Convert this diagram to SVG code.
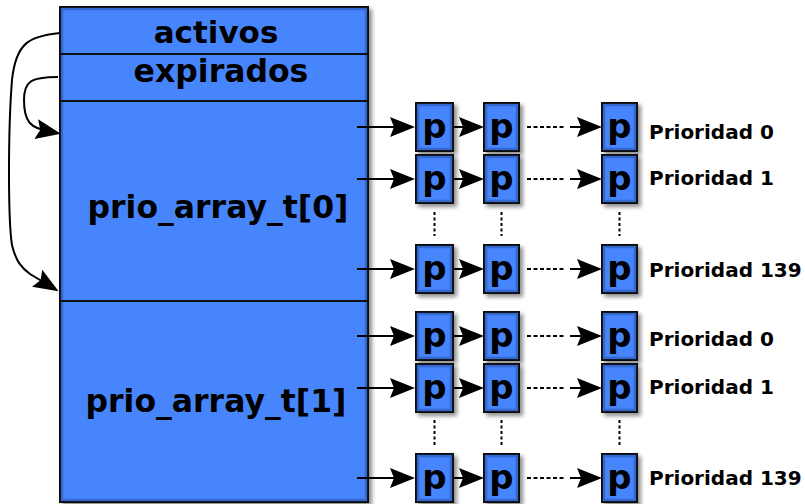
<svg xmlns="http://www.w3.org/2000/svg" width="805" height="504" viewBox="0 0 805 504">
  <style>
    .box { fill: #4785fd; stroke: #111; stroke-width: 2; }
    .inner { fill: none; stroke: #2550a8; stroke-width: 2.5; opacity: 0.55; }
    .big { font-family: "DejaVu Sans", "Liberation Sans", sans-serif; font-weight: bold; fill: #000; text-anchor: middle; }
    .p { font-family: "DejaVu Sans", "Liberation Sans", sans-serif; font-weight: bold; font-size: 34px; fill: #000; text-anchor: middle; }
    .lbl { font-family: "DejaVu Sans", "Liberation Sans", sans-serif; font-weight: bold; font-size: 20px; fill: #000; }
    .arr { fill: none; stroke: #000; stroke-width: 2; marker-end: url(#head); }
    .dash { fill: none; stroke: #000; stroke-width: 2; stroke-dasharray: 4 2.5; }
    .dot { fill: none; stroke: #000; stroke-width: 2; stroke-dasharray: 3 2.5; }
  </style>
  <defs>
    <marker id="head" viewBox="-18 -12 30 24" markerWidth="30" markerHeight="24" refX="0" refY="0" orient="auto" markerUnits="userSpaceOnUse">
      <path d="M10,0 L-15,-10 L-11,0 L-15,10 Z" fill="#000"/>
    </marker>
    <filter id="shadow" x="-10%" y="-10%" width="130%" height="130%">
      <feGaussianBlur in="SourceAlpha" stdDeviation="2"/>
      <feOffset dx="3" dy="3" result="o"/>
      <feComponentTransfer><feFuncA type="linear" slope="0.45"/></feComponentTransfer>
      <feMerge><feMergeNode/><feMergeNode in="SourceGraphic"/></feMerge>
    </filter>
  </defs>

  <!-- runqueue structure -->
  <g id="runqueue">
    <rect class="box" x="60" y="7" width="308" height="495" stroke-width="2.5" filter="url(#shadow)"/>
    <rect class="inner" x="62" y="9" width="304" height="491"/>
    <line x1="60" y1="54" x2="368" y2="54" stroke="#111" stroke-width="2"/>
    <line x1="60" y1="101" x2="368" y2="101" stroke="#111" stroke-width="2"/>
    <line x1="60" y1="301" x2="368" y2="301" stroke="#111" stroke-width="2"/>
    <text class="big" x="216" y="43" font-size="31">activos</text>
    <text class="big" x="221" y="82" font-size="31.5">expirados</text>
    <text class="big" x="218" y="218" font-size="31.5">prio_array_t[0]</text>
    <text class="big" x="216" y="412" font-size="31.5">prio_array_t[1]</text>
  </g>

  <!-- task nodes, grouped by priority row -->
  <g id="row-a0">
    <rect class="box" x="416" y="103" width="37" height="48" filter="url(#shadow)"/><rect class="inner" x="418" y="105" width="33" height="44"/><text class="p" x="434.5" y="138">p</text>
    <rect class="box" x="484" y="103" width="35" height="48" filter="url(#shadow)"/><rect class="inner" x="486" y="105" width="31" height="44"/><text class="p" x="501.5" y="138">p</text>
    <rect class="box" x="602" y="103" width="35" height="48" filter="url(#shadow)"/><rect class="inner" x="604" y="105" width="31" height="44"/><text class="p" x="619.5" y="138">p</text>
    <text class="lbl" x="649" y="139">Prioridad 0</text>
  </g>
  <g id="row-a1">
    <rect class="box" x="416" y="155" width="37" height="48" filter="url(#shadow)"/><rect class="inner" x="418" y="157" width="33" height="44"/><text class="p" x="434.5" y="190">p</text>
    <rect class="box" x="484" y="155" width="35" height="48" filter="url(#shadow)"/><rect class="inner" x="486" y="157" width="31" height="44"/><text class="p" x="501.5" y="190">p</text>
    <rect class="box" x="602" y="155" width="35" height="48" filter="url(#shadow)"/><rect class="inner" x="604" y="157" width="31" height="44"/><text class="p" x="619.5" y="190">p</text>
    <text class="lbl" x="649" y="185">Prioridad 1</text>
  </g>
  <g id="row-a139">
    <rect class="box" x="416" y="245" width="37" height="48" filter="url(#shadow)"/><rect class="inner" x="418" y="247" width="33" height="44"/><text class="p" x="434.5" y="280">p</text>
    <rect class="box" x="484" y="245" width="35" height="48" filter="url(#shadow)"/><rect class="inner" x="486" y="247" width="31" height="44"/><text class="p" x="501.5" y="280">p</text>
    <rect class="box" x="602" y="245" width="35" height="48" filter="url(#shadow)"/><rect class="inner" x="604" y="247" width="31" height="44"/><text class="p" x="619.5" y="280">p</text>
    <text class="lbl" x="649" y="277">Prioridad 139</text>
  </g>
  <g id="row-b0">
    <rect class="box" x="416" y="312" width="37" height="48" filter="url(#shadow)"/><rect class="inner" x="418" y="314" width="33" height="44"/><text class="p" x="434.5" y="347">p</text>
    <rect class="box" x="484" y="312" width="35" height="48" filter="url(#shadow)"/><rect class="inner" x="486" y="314" width="31" height="44"/><text class="p" x="501.5" y="347">p</text>
    <rect class="box" x="602" y="312" width="35" height="48" filter="url(#shadow)"/><rect class="inner" x="604" y="314" width="31" height="44"/><text class="p" x="619.5" y="347">p</text>
    <text class="lbl" x="649" y="346">Prioridad 0</text>
  </g>
  <g id="row-b1">
    <rect class="box" x="416" y="364" width="37" height="48" filter="url(#shadow)"/><rect class="inner" x="418" y="366" width="33" height="44"/><text class="p" x="434.5" y="399">p</text>
    <rect class="box" x="484" y="364" width="35" height="48" filter="url(#shadow)"/><rect class="inner" x="486" y="366" width="31" height="44"/><text class="p" x="501.5" y="399">p</text>
    <rect class="box" x="602" y="364" width="35" height="48" filter="url(#shadow)"/><rect class="inner" x="604" y="366" width="31" height="44"/><text class="p" x="619.5" y="399">p</text>
    <text class="lbl" x="649" y="394">Prioridad 1</text>
  </g>
  <g id="row-b139">
    <rect class="box" x="416" y="454" width="37" height="48" filter="url(#shadow)"/><rect class="inner" x="418" y="456" width="33" height="44"/><text class="p" x="434.5" y="489">p</text>
    <rect class="box" x="484" y="454" width="35" height="48" filter="url(#shadow)"/><rect class="inner" x="486" y="456" width="31" height="44"/><text class="p" x="501.5" y="489">p</text>
    <rect class="box" x="602" y="454" width="35" height="48" filter="url(#shadow)"/><rect class="inner" x="604" y="456" width="31" height="44"/><text class="p" x="619.5" y="489">p</text>
    <text class="lbl" x="649" y="485">Prioridad 139</text>
  </g>

  <!-- connectors -->
  <g id="connectors">
    <path class="arr" d="M60,33 C30,36 16,42 12,80 C8,130 8,220 12,245 C16,262 22,268 30,274 L50,286"/>
    <path class="arr" d="M58,77 C30,77 24,82 24,100 C24,122 30,128 51,132"/>

    <path class="arr" d="M357,127 H405"/><path class="arr" d="M453,127 H474"/><path class="dash" d="M527,127 H566"/><path class="arr" d="M570,127 H592"/>
    <path class="arr" d="M357,179 H405"/><path class="arr" d="M453,179 H474"/><path class="dash" d="M527,179 H566"/><path class="arr" d="M570,179 H592"/>
    <path class="arr" d="M357,269 H405"/><path class="arr" d="M453,269 H474"/><path class="dash" d="M527,269 H566"/><path class="arr" d="M570,269 H592"/>
    <path class="arr" d="M357,336 H405"/><path class="arr" d="M453,336 H474"/><path class="dash" d="M527,336 H566"/><path class="arr" d="M570,336 H592"/>
    <path class="arr" d="M357,388 H405"/><path class="arr" d="M453,388 H474"/><path class="dash" d="M527,388 H566"/><path class="arr" d="M570,388 H592"/>
    <path class="arr" d="M357,478 H405"/><path class="arr" d="M453,478 H474"/><path class="dash" d="M527,478 H566"/><path class="arr" d="M570,478 H592"/>

    <path class="dot" d="M434.5,212 V236 M501.5,212 V236 M619.5,212 V236"/>
    <path class="dot" d="M434.5,420 V445 M501.5,420 V445 M619.5,420 V445"/>
  </g>
</svg>
